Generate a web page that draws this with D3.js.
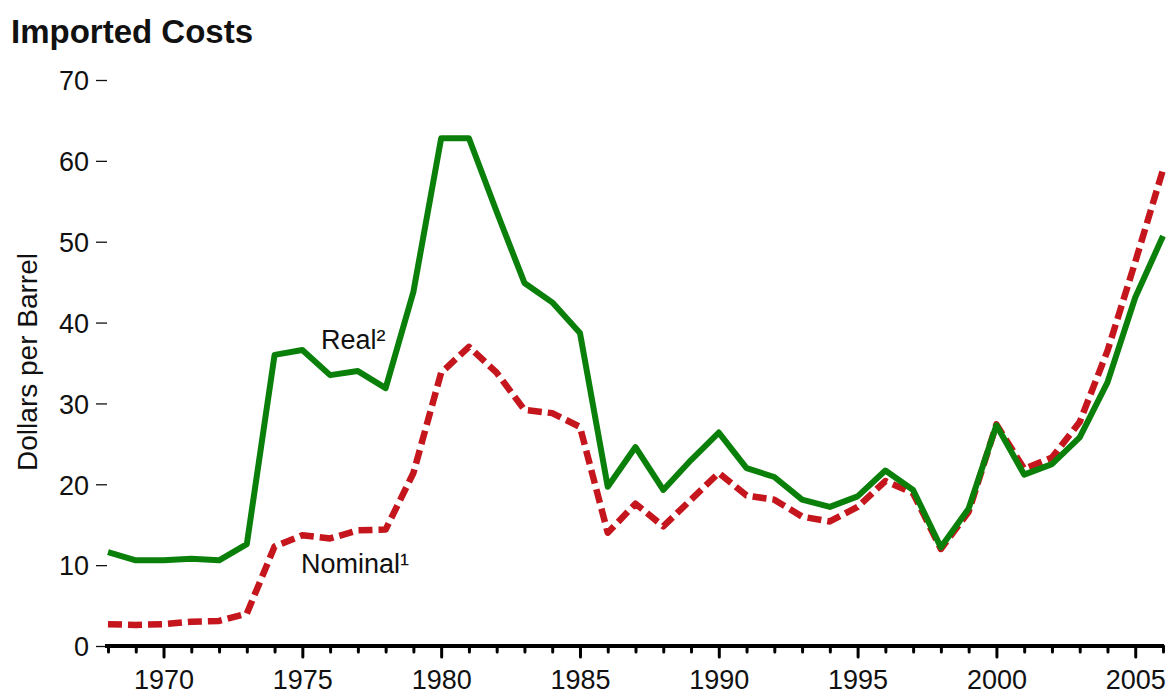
<!DOCTYPE html>
<html>
<head>
<meta charset="utf-8">
<script src="https://cdn.jsdelivr.net/npm/d3@7"></script>
<style>
  body { margin: 0; background: #fff; }
  text { font-family: "Liberation Sans", Arial, sans-serif; fill: #111; }
</style>
</head>
<body>
<script>

var years = [1968, 1969, 1970, 1971, 1972, 1973, 1974, 1975, 1976, 1977, 1978, 1979, 1980, 1981, 1982, 1983, 1984, 1985, 1986, 1987,
	1988, 1989, 1990, 1991, 1992, 1993, 1994, 1995, 1996, 1997, 1998, 1999, 2000, 2001, 2002, 2003, 2004, 2005, 2006];
var real = [11.6, 10.6, 10.6, 10.8, 10.6, 12.6, 36.0, 36.6, 33.5, 34.0, 31.9, 43.8, 62.8, 62.8, 53.7, 44.9, 42.5, 38.7, 19.7, 24.6,
	19.3, 23.0, 26.4, 22.0, 20.9, 18.1, 17.2, 18.5, 21.7, 19.3, 12.2, 17.0, 27.3, 21.2, 22.5, 25.8, 32.6, 43.1, 50.7];
var nominal = [2.7, 2.6, 2.7, 3.0, 3.1, 4.0, 12.3, 13.7, 13.3, 14.3, 14.4, 21.4, 33.8, 37.0, 33.8, 29.2, 28.8, 27.1, 14.0, 17.6,
	14.8, 18.1, 21.4, 18.6, 18.1, 16.0, 15.4, 17.2, 20.4, 18.9, 12.0, 16.6, 27.4, 21.9, 23.3, 27.7, 36.5, 47.5, 58.9];
var yTicks = [0, 10, 20, 30, 40, 50, 60, 70];

var W = 1171, H = 695;

var svg = d3.select("body").append("svg")
	.attr("width", W)
	.attr("height", H);

var x = d3.scaleLinear().domain([1968, 2006]).range([108, 1163]);
var y = d3.scaleLinear().domain([0, 70]).range([646, 80]);

// title and y label
svg.append("text")
	.attr("x", 11)
	.attr("y", 43)
	.style("font-size", "33px")
	.style("font-weight", "bold")
	.text("Imported Costs");

svg.append("text")
	.attr("transform", "translate(37,362) rotate(-90)")
	.attr("text-anchor", "middle")
	.style("font-size", "28px")
	.text("Dollars per Barrel");

// y axis: labels with short dashes, no line
var yAxis = svg.append("g")
	.attr("transform", "translate(107,0)")
	.call(d3.axisLeft(y).tickValues(yTicks).tickSize(11).tickPadding(7));
yAxis.select(".domain").remove();
yAxis.selectAll(".tick line").attr("stroke", "#111").attr("stroke-width", 1.3);
yAxis.selectAll(".tick text").style("font-size", "27px").attr("dy", "0.36em");

// lines
var line = function(vals) {
	return d3.line()
		.x(function(d, i) { return x(years[i]); })
		.y(function(d) { return y(d); })(vals);
};

svg.append("path")
	.attr("d", line(nominal))
	.attr("fill", "none")
	.attr("stroke", "#c4161c")
	.attr("stroke-width", 6.5)
	.attr("stroke-dasharray", "14,6")
	.attr("stroke-linejoin", "round");

svg.append("path")
	.attr("d", line(real))
	.attr("fill", "none")
	.attr("stroke", "#0a800a")
	.attr("stroke-width", 6)
	.attr("stroke-linejoin", "round");

// x axis
var xAxis = svg.append("g")
	.attr("transform", "translate(0,646)")
	.call(d3.axisBottom(x).tickValues(years).tickSize(5)
		.tickFormat(function(d) { return d % 5 == 0 ? d : ""; }));
xAxis.select(".domain")
	.attr("d", "M" + (x(1968) - 3) + ",0H" + (x(2006) + 1))
	.attr("stroke", "#000")
	.attr("stroke-width", 4);
xAxis.selectAll(".tick line")
	.attr("stroke", "#000")
	.attr("stroke-width", 3)
	.attr("stroke-linecap", "round")
	.attr("y2", function(d) { return d % 5 == 0 ? 11 : 6; });
xAxis.selectAll(".tick text")
	.attr("y", 43)
	.attr("dy", 0)
	.style("font-size", "27px");

// annotations
svg.append("text")
	.attr("x", 321)
	.attr("y", 349)
	.style("font-size", "27px")
	.text("Real²");

svg.append("text")
	.attr("x", 301)
	.attr("y", 573)
	.style("font-size", "27px")
	.text("Nominal¹");

</script>
</body>
</html>
